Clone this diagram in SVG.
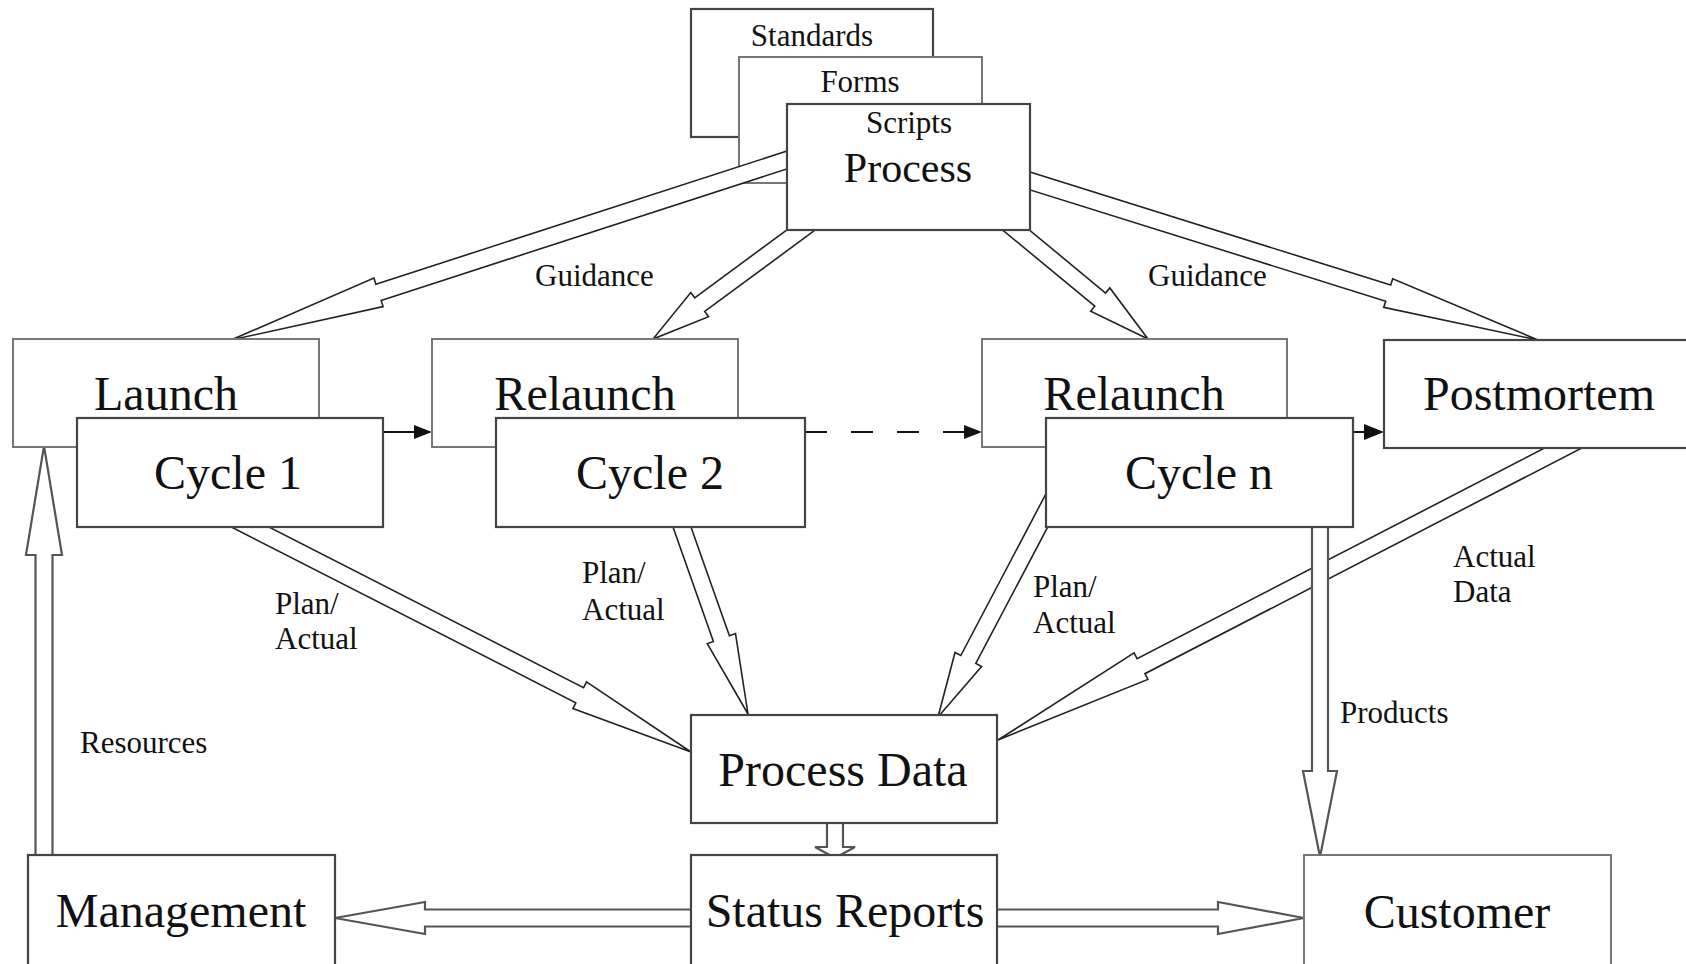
<svg xmlns="http://www.w3.org/2000/svg" width="1686" height="964" viewBox="0 0 1686 964">
<style>
.bg{fill:#fff}
.bx{fill:#fff;stroke:#444;stroke-width:2.2}
.bl{fill:#fff;stroke:#777;stroke-width:2}
.big{font-family:"Liberation Serif","Times New Roman",serif;font-size:48px;fill:#111;text-anchor:middle}
.mid{font-family:"Liberation Serif","Times New Roman",serif;font-size:42px;fill:#111;text-anchor:middle}
.sm{font-family:"Liberation Serif","Times New Roman",serif;font-size:31px;fill:#111}
.smc{font-family:"Liberation Serif","Times New Roman",serif;font-size:31px;fill:#111;text-anchor:middle}
.ha{fill:#fff;stroke:#222;stroke-width:1.6;stroke-linejoin:miter}
.hv{fill:#fff;stroke:#555;stroke-width:2.2;stroke-linejoin:miter}
.ln{fill:none;stroke:#111;stroke-width:2}
.hd{fill:#111;stroke:none}
</style>
<rect class="bg" x="0" y="0" width="1686" height="964"/>

<g id="standards">
<rect class="bx" x="691" y="9" width="242" height="128"/>
<text class="smc" x="812" y="46">Standards</text>
</g>
<g id="forms">
<rect class="bl" x="739" y="57" width="243" height="126"/>
<text class="smc" x="860" y="92">Forms</text>
</g>

<g id="connectors">
<!-- Process -> Launch (Guidance) -->
<polygon class="ha" points="799.2,147.1 375.9,284.2 373.9,278.0 231,340 383.1,306.6 381.1,300.4 804.4,163.3"/>
<!-- Process -> Relaunch 1 -->
<polygon class="ha" points="813.1,210.6 694.7,297.8 690.8,292.5 653,339 708.6,316.7 704.7,311.4 823.1,224.2"/>
<!-- Process -> Relaunch n -->
<polygon class="ha" points="988.4,218.3 1094.8,306.1 1090.7,311.1 1148,339 1109.8,287.9 1105.6,293.0 999.2,205.1"/>
<!-- Process -> Postmortem -->
<polygon class="ha" points="1015.4,185.3 1385.7,301.2 1383.7,307.4 1538,340 1392.7,278.8 1390.7,285.0 1020.4,169.1"/>
<!-- Cycle 1 -> Process Data -->
<polygon class="ha" points="224,523.3 575.8,702.8 572.9,708.6 691,752 586.5,681.8 583.6,687.6 231.7,508.1"/>
<!-- Cycle 2 -> Process Data -->
<polygon class="ha" points="668.4,514.1 713.4,641.4 707.3,643.6 748,714 735.5,633.6 729.4,635.8 684.4,508.5"/>
<!-- Cycle n -> Process Data -->
<polygon class="ha" points="1051.7,482.9 960.8,655.5 955.0,652.5 938,717 981.6,666.5 975.8,663.5 1066.7,490.9"/>
<!-- Postmortem -> Process Data -->
<polygon class="ha" points="1580.4,429.5 1137.1,658.6 1134.1,652.8 998,740 1147.9,679.4 1144.9,673.7 1588.2,444.6"/>
<!-- Products: Cycle n -> Customer -->
<polygon class="hv" points="1312,520 1312,771 1303,771 1320,857 1337,771 1328,771 1328,520"/>
<!-- Resources: Management -> Launch -->
<polygon class="hv" points="35.5,862 35.5,555 26,555 44,446 62,555 52.5,555 52.5,862"/>
<!-- Process Data -> Status Reports -->
<polygon class="hv" points="827,815 827,847 815,847 835,858 855,847 843,847 843,815"/>
<!-- Status Reports -> Management -->
<polygon class="hv" points="700,909.5 425,909.5 425,902 335,918 425,934 425,926.5 700,926.5"/>
<!-- Status Reports -> Customer -->
<polygon class="hv" points="990,909.5 1218,909.5 1218,902 1304,918 1218,934 1218,926.5 990,926.5"/>
<!-- Cycle 1 -> Relaunch -->
<line class="ln" x1="383" y1="432" x2="416" y2="432"/>
<polygon class="hd" points="414,425 432,432 414,439"/>
<!-- Cycle 2 -> Relaunch n (dashed) -->
<line class="ln" x1="805" y1="432" x2="965" y2="432" stroke-dasharray="22 24"/>
<polygon class="hd" points="964,425 982,432 964,439"/>
<!-- Cycle n -> Postmortem -->
<line class="ln" x1="1353" y1="432" x2="1366" y2="432"/>
<polygon class="hd" points="1364,424 1384,432 1364,440"/>
</g>

<g id="labels">
<text class="sm" x="535" y="286">Guidance</text>
<text class="sm" x="1148" y="286">Guidance</text>
<text class="sm" x="275" y="614">Plan/</text>
<text class="sm" x="275" y="649">Actual</text>
<text class="sm" x="582" y="583">Plan/</text>
<text class="sm" x="582" y="620">Actual</text>
<text class="sm" x="1033" y="597">Plan/</text>
<text class="sm" x="1033" y="633">Actual</text>
<text class="sm" x="1453" y="567">Actual</text>
<text class="sm" x="1453" y="602">Data</text>
<text class="sm" x="1340" y="723">Products</text>
<text class="sm" x="80" y="753">Resources</text>
</g>

<g id="process">
<rect class="bx" x="787" y="104" width="243" height="126"/>
<text class="smc" x="909" y="133">Scripts</text>
<text class="mid" x="908" y="182">Process</text>
</g>
<g id="launch">
<rect class="bl" x="13" y="339" width="306" height="108"/>
<text class="big" x="166" y="410">Launch</text>
</g>
<g id="cycle1">
<rect class="bx" x="77" y="418" width="306" height="109"/>
<text class="big" x="228" y="489">Cycle 1</text>
</g>
<g id="relaunch1">
<rect class="bl" x="432" y="339" width="306" height="108"/>
<text class="big" x="585" y="410">Relaunch</text>
</g>
<g id="cycle2">
<rect class="bx" x="496" y="418" width="309" height="109"/>
<text class="big" x="650" y="489">Cycle 2</text>
</g>
<g id="relaunchn">
<rect class="bl" x="982" y="339" width="305" height="108"/>
<text class="big" x="1134" y="410">Relaunch</text>
</g>
<g id="cyclen">
<rect class="bx" x="1046" y="418" width="307" height="109"/>
<text class="big" x="1199" y="489">Cycle n</text>
</g>
<g id="postmortem">
<rect class="bx" x="1384" y="340" width="320" height="108"/>
<text class="big" x="1539" y="410">Postmortem</text>
</g>
<g id="processdata">
<rect class="bx" x="691" y="715" width="306" height="108"/>
<text class="big" x="843" y="786">Process Data</text>
</g>
<g id="statusreports">
<rect class="bx" x="691" y="855" width="306" height="120"/>
<text class="big" x="845" y="927">Status Reports</text>
</g>
<g id="management">
<rect class="bx" x="28" y="855" width="307" height="120"/>
<text class="big" x="181" y="927">Management</text>
</g>
<g id="customer">
<rect class="bl" x="1304" y="855" width="307" height="120"/>
<text class="big" x="1457" y="928">Customer</text>
</g>
</svg>
